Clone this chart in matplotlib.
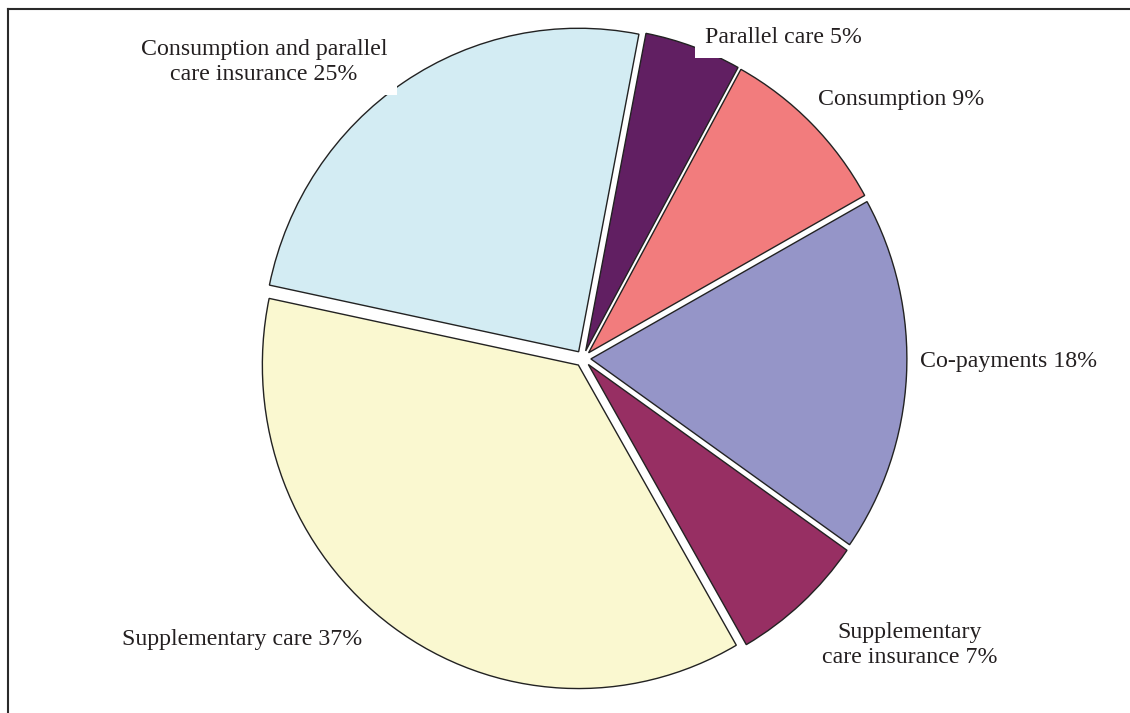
import matplotlib.pyplot as plt
from matplotlib.lines import Line2D

plt.rcParams["font.family"] = ["Liberation Serif", "DejaVu Serif"]

# slices in clockwise order starting near the top
labels = [
    "Parallel care",
    "Consumption",
    "Co-payments",
    "Supplementary\ncare insurance",
    "Supplementary care",
    "Consumption and parallel\ncare insurance",
]
shares = [5, 9, 18, 7, 37, 25]
colors = ["#611f62", "#f27c7d", "#9595c8", "#972f63", "#faf8d0", "#d3ecf3"]

# label anchor points in pixels (x, y from top-left) and alignment
label_pos = [(705, 38), (818, 100), (920, 362), (910, 645), (122, 640), (264, 62)]
label_ha = ["left", "left", "left", "center", "left", "center"]
label_box = [True, False, False, False, False, True]

W, H = 1130, 713
cx, cy = 583, 358.5
rx, ry = 316, 323.5


def to_data(px, py):
    return (px - cx) / rx, (cy - py) / ry


fig = plt.figure(figsize=(W / 100, H / 100), dpi=100)
ax = fig.add_axes([0, 0, 1, 1])
ax.pie(
    shares,
    colors=colors,
    startangle=79,
    counterclock=False,
    explode=[0.025] * len(shares),
    wedgeprops=dict(edgecolor="#222222", linewidth=1.0),
)
ax.set_aspect("auto")
ax.set_xlim(-cx / rx, (W - cx) / rx)
ax.set_ylim((cy - H) / ry, cy / ry)
ax.axis("off")

for name, val, (px, py), ha, box in zip(labels, shares, label_pos, label_ha, label_box):
    x, y = to_data(px, py)
    kw = {}
    if box:
        kw["bbox"] = dict(facecolor="white", edgecolor="none", pad=7)
    ax.text(x, y, f"{name} {val}%", ha=ha, va="center", fontsize=17.2,
            color="#231f20", linespacing=1.3, zorder=5, **kw)

# frame lines (top and left only)
fig.add_artist(Line2D([8 / W, 1], [1 - 9 / H, 1 - 9 / H], color="#2a2a2a",
                      linewidth=1.5, transform=fig.transFigure))
fig.add_artist(Line2D([8 / W, 8 / W], [0, 1 - 9 / H], color="#2a2a2a",
                      linewidth=1.5, transform=fig.transFigure))

fig.savefig("out.png", dpi=100)
